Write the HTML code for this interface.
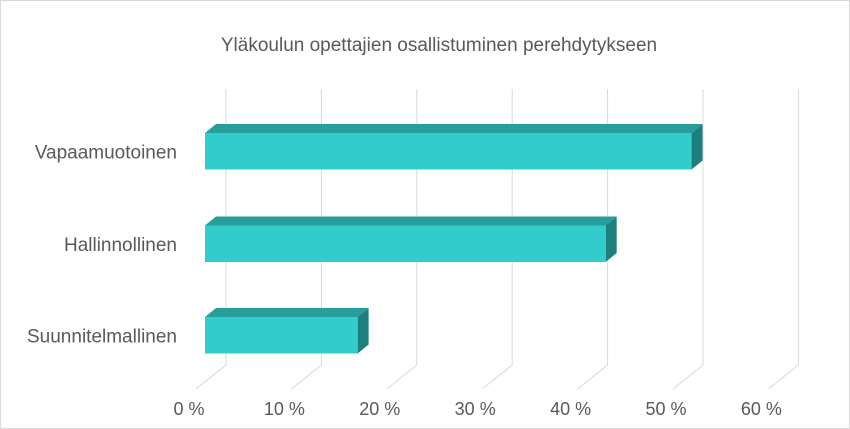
<!DOCTYPE html>
<html><head><meta charset="utf-8"><style>
body{margin:0;background:#fff;}
svg{display:block;font-family:"Liberation Sans",sans-serif;}
</style></head><body>
<svg id="chart" width="850" height="429">
<rect x="0.5" y="0.5" width="849" height="428" fill="#fff" stroke="#d9d9d9"/>
<text x="439" y="51" text-anchor="middle" font-size="19" fill="#595959">Yläkoulun opettajien osallistuminen perehdytykseen</text>
<g id="grid"></g><g id="bars"></g><g id="labels"></g>
</svg>
<script>
const categories=["Vapaamuotoinen","Hallinnollinen","Suunnitelmallinen"];
const values=[51,42,16];
const ticks=[0,10,20,30,40,50,60];
const tickLabels=["0 %","10 %","20 %","30 %","40 %","50 %","60 %"];
const NS="http://www.w3.org/2000/svg";
function mk(t,a,p){const e=document.createElementNS(NS,t);for(const k in a)e.setAttribute(k,a[k]);p.appendChild(e);return e;}
const px=95.4/10;
function xBack(v){return 226+v*px;}
function xBar(v){return 205+v*px;}
const grid=document.getElementById('grid'),bars=document.getElementById('bars'),labels=document.getElementById('labels');
ticks.forEach((t,i)=>{
 const xb=xBack(t);
 const l=mk('polyline',{points:`${xb},89 ${xb},365 ${xb-30},389`,fill:'none',stroke:'#d9d9d9','stroke-width':1},grid);
 
 
 const tx=mk('text',{x:189+t*px,y:415,'text-anchor':'middle','font-size':18,fill:'#595959'},labels);
 tx.textContent=tickLabels[i];
 
 
});
const tops=[133,225.5,317],h=36.5,dx=11,dy=9;
categories.forEach((c,i)=>{
 const y=tops[i],x0=xBar(0),x1=xBar(values[i]);
 const g=mk('g',{},bars);
 
 
 mk('polygon',{points:`${x0},${y} ${x0+dx},${y-dy} ${x1+dx},${y-dy} ${x1},${y}`,fill:'#259e9c'},g);
 mk('polygon',{points:`${x1},${y} ${x1+dx},${y-dy} ${x1+dx},${y+h-dy} ${x1},${y+h}`,fill:'#1e807e'},g);
 mk('rect',{x:x0,y:y,width:x1-x0,height:h,fill:'#33cccc'},g);
 const t=mk('text',{x:177,y:y+h/2+7,'text-anchor':'end','font-size':19,fill:'#595959'},labels);
 t.textContent=c;
 
 
});
</script>
</body></html>
